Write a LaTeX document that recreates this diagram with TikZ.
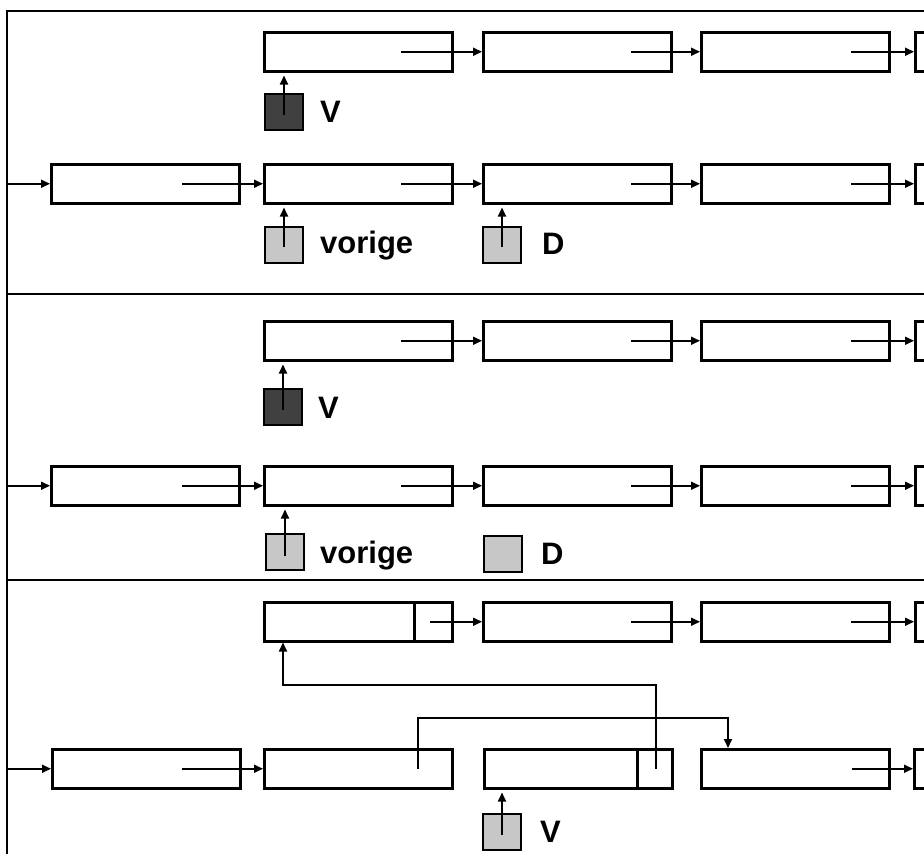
\documentclass[tikz,border=0pt]{standalone}
\usepackage{fontspec}
\setmainfont{Liberation Sans}
\usetikzlibrary{arrows.meta}
\tikzset{
  cell/.style={draw, line width=2.5pt, minimum width=188pt, minimum height=39pt,
    inner sep=0pt, anchor=north west},
  ptrcell/.style={draw, line width=2.5pt, minimum width=#1, minimum height=39pt,
    inner sep=0pt, anchor=north east},
  link/.style={line width=1.7pt, -{Triangle[length=9pt,width=8pt]}},
  darkvar/.style={draw, line width=2.5pt, fill=black!75, minimum width=38pt,
    minimum height=36pt, inner sep=0pt},
  lightvar/.style={darkvar, fill=black!22},
  varname/.style={anchor=base west, inner sep=0pt,
    font=\bfseries\fontsize{31}{36}\selectfont},
  frame/.style={line width=1.6pt},
  varptr/.style={link, shorten >=3pt},
}
\begin{document}
\begin{tikzpicture}[x=1pt, y=-1pt]
\useasboundingbox (0,0) rectangle (924,854);
\clip (0,0) rectangle (924,854);

% frame and panel separators
\draw[frame] (7,854) -- (7,11) -- (924,11);
\draw[frame] (7,294) -- (924,294);
\draw[frame] (7,580) -- (924,580);
\coordinate (edge) at (7,0);

% ---------- panel 1 ----------
\node[cell] (a1) at (263,31) {};
\node[cell] (a2) at (482,31) {};
\node[cell] (a3) at (700,31) {};
\node[cell] (a4) at (914,31) {};
\draw[link] ([xshift=138pt]a1.west) -- (a2.west);
\draw[link] ([xshift=149pt]a2.west) -- (a3.west);
\draw[link] ([xshift=151pt]a3.west) -- (a4.west);

\node[cell] (b0) at (50,163) {};
\node[cell] (b1) at (263,163) {};
\node[cell] (b2) at (482,163) {};
\node[cell] (b3) at (700,163) {};
\node[cell] (b4) at (914,163) {};
\draw[link] (b0.west -| edge) -- (b0.west);
\draw[link] ([xshift=132pt]b0.west) -- (b1.west);
\draw[link] ([xshift=138pt]b1.west) -- (b2.west);
\draw[link] ([xshift=149pt]b2.west) -- (b3.west);
\draw[link] ([xshift=151pt]b3.west) -- (b4.west);

\node[darkvar] (v1) at (284,112) {};
\node[varname] (v1name) at (320,122) {V};
\draw[varptr] ([yshift=-3pt]v1.center) -- (v1.center |- a1.south);

\node[lightvar] (p1) at (284,245) {};
\node[varname] (p1name) at (320,253) {vorige};
\draw[varptr] ([yshift=-2pt]p1.center) -- (p1.center |- b1.south);

\node[lightvar] (d1) at (502,245) {};
\node[varname] (d1name) at (542,254) {D};
\draw[varptr] ([yshift=-2pt]d1.center) -- (d1.center |- b2.south);

% ---------- panel 2 ----------
\node[cell] (c1) at (263,320) {};
\node[cell] (c2) at (482,320) {};
\node[cell] (c3) at (700,320) {};
\node[cell] (c4) at (914,320) {};
\draw[link] ([xshift=138pt]c1.west) -- (c2.west);
\draw[link] ([xshift=149pt]c2.west) -- (c3.west);
\draw[link] ([xshift=151pt]c3.west) -- (c4.west);

\node[cell] (r0) at (50,465) {};
\node[cell] (r1) at (263,465) {};
\node[cell] (r2) at (482,465) {};
\node[cell] (r3) at (700,465) {};
\node[cell] (r4) at (914,465) {};
\draw[link] (r0.west -| edge) -- (r0.west);
\draw[link] ([xshift=132pt]r0.west) -- (r1.west);
\draw[link] ([xshift=138pt]r1.west) -- (r2.west);
\draw[link] ([xshift=149pt]r2.west) -- (r3.west);
\draw[link] ([xshift=151pt]r3.west) -- (r4.west);

\node[darkvar] (v2) at (283,407) {};
\node[varname] (v2name) at (318,418) {V};
\draw[varptr] ([yshift=-3pt]v2.center) -- (v2.center |- c1.south);

\node[lightvar] (p2) at (285,552) {};
\node[varname] (p2name) at (320,563) {vorige};
\draw[varptr] ([yshift=-4pt]p2.center) -- (p2.center |- r1.south);

\node[lightvar] (d2) at (503,554) {};
\node[varname] (d2name) at (541,564) {D};

% ---------- panel 3 ----------
\node[cell] (e1) at (263,601) {};
\node[ptrcell=38pt] (e1p) at (e1.north east) {};
\node[cell] (e2) at (482,601) {};
\node[cell] (e3) at (700,601) {};
\node[cell] (e4) at (914,601) {};
\draw[link] ([xshift=-3pt]e1p.center) -- (e2.west);
\draw[link] ([xshift=149pt]e2.west) -- (e3.west);
\draw[link] ([xshift=151pt]e3.west) -- (e4.west);

\node[cell] (f0) at (51,748) {};
\node[cell] (f1) at (263,748) {};
\node[cell] (f2) at (483,748) {};
\node[ptrcell=35pt] (f2p) at (f2.north east) {};
\node[cell] (f3) at (700,748) {};
\node[cell] (f4) at (913,748) {};
\draw[link] (f0.west -| edge) -- (f0.west);
\draw[link] ([xshift=131pt]f0.west) -- (f1.west);
\draw[link] ([xshift=152pt]f3.west) -- (f4.west);

% re-linked pointers
\coordinate (hiY) at (0,685);
\coordinate (loY) at (0,718);
\coordinate (e1in) at ([xshift=20pt]e1.south west);
\coordinate (f1out) at ([xshift=155pt]f1.west);
\coordinate (f3in) at ([xshift=28pt]f3.north west);
\draw[link] ([xshift=1pt]f2p.center) -- ([xshift=1pt]f2p.center |- hiY)
  -- (e1in |- hiY) -- (e1in);
\draw[link] (f1out) -- (f1out |- loY) -- (f3in |- loY) -- (f3in);

\node[lightvar] (v3) at (502,832) {};
\node[varname] (v3name) at (540,842) {V};
\draw[varptr] ([yshift=-3pt]v3.center) -- (v3.center |- f2.south);
\end{tikzpicture}
\end{document}
